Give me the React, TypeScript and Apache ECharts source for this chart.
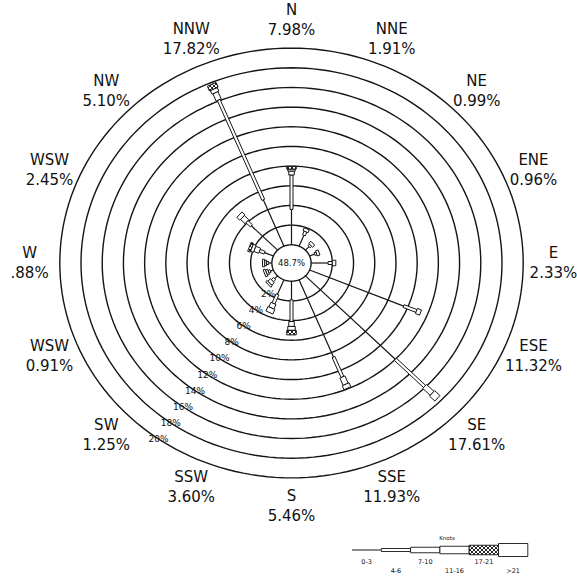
import React, { useEffect, useRef } from 'react';
import * as echarts from 'echarts';

// ---------- data ----------
const directions = ['N', 'NNE', 'NE', 'ENE', 'E', 'ESE', 'SE', 'SSE', 'S', 'SSW', 'SW', 'WSW', 'W', 'WSW', 'NW', 'NNW'];
const directionPercentLabels = ['7.98%', '1.91%', '0.99%', '0.96%', '2.33%', '11.32%', '17.61%', '11.93%', '5.46%', '3.60%', '1.25%', '0.91%', '.88%', '2.45%', '5.10%', '17.82%'];
const calmLabel = '48.7%';
const ringTicks = [2, 4, 6, 8, 10, 12, 14, 16, 18, 20];
const speedClasses = ['0-3', '4-6', '7-10', '11-16', '17-21', '>21'];
const legendTitle = 'Knots';

// percent of time per direction, by speed class (knots)
const knots0to3 = [3.6, 1.2, 0.5, 0.5, 1.6, 9.6, 12.0, 8.5, 1.9, 1.6, 0.4, 0.3, 0.3, 0.9, 3.5, 5.1];
const knots4to6 = [3.5, 0.4, 0.2, 0.2, 0.4, 1.3, 3.9, 2.2, 2.2, 1.0, 0.3, 0.2, 0.2, 0.5, 0.6, 11.0];
const knots7to10 = [0.4, 0.31, 0.29, 0.26, 0.33, 0.42, 1.0, 0.8, 0.5, 0.5, 0.35, 0.21, 0.18, 0.5, 0.6, 0.8];
const knots11to16 = [0.2, 0, 0, 0, 0, 0, 0.71, 0.43, 0.4, 0.5, 0.2, 0.2, 0.2, 0.3, 0.4, 0.4];
const knots17to21 = [0.28, 0, 0, 0, 0, 0, 0, 0, 0.46, 0, 0, 0, 0, 0.25, 0, 0.52];
const knotsOver21 = [0, 0, 0, 0, 0, 0, 0, 0, 0, 0, 0, 0, 0, 0, 0, 0];

// ---------- styling ----------
const R0 = 1.85; // radius (in % units) of the calm circle
const INK = '#151515';
const TEXT = '#111111';
const FONT = 'DejaVu Sans, Verdana, sans-serif';
const classWidths = [1.2, 3, 5.5, 7.5, 9.5, 13];
const LABEL_RADIUS = 24.7;
const RING_LABEL_BEARING = 215;

export default function App() {
  const ref = useRef<HTMLDivElement>(null);

  useEffect(() => {
    if (!ref.current) return;
    const chart = echarts.init(ref.current, undefined, { renderer: 'svg' });

    const cv = document.createElement('canvas');
    cv.width = 4;
    cv.height = 4;
    const ctx = cv.getContext('2d')!;
    ctx.fillStyle = '#ffffff';
    ctx.fillRect(0, 0, 4, 4);
    ctx.strokeStyle = '#222';
    ctx.lineWidth = 1;
    ctx.beginPath();
    ctx.moveTo(0, 0); ctx.lineTo(4, 4);
    ctx.moveTo(4, 0); ctx.lineTo(0, 4);
    ctx.stroke();
    const hatch: any = { image: cv, repeat: 'repeat' };

    const classFill = (c: number) => (c === 4 ? hatch : '#ffffff');

    const classArrays = [knots0to3, knots4to6, knots7to10, knots11to16, knots17to21, knotsOver21];
    const petalData: number[][] = [];
    directions.forEach((_, d) => {
      let cum = 0;
      classArrays.forEach((arr, c) => {
        const v = arr[d];
        if (v > 0) {
          petalData.push([d, c, cum, cum + v]);
          cum += v;
        }
      });
    });

    const ringData = [0, ...ringTicks].map((p) => [p, 0]);
    const labelData = directions.map((n, i) => [i, 0]);
    const ringLabelData = ringTicks.map((p) => [p, 0]);

    const option: any = {
      animation: false,
      backgroundColor: '#ffffff',
      grid: { left: 37, top: 27, width: 509, height: 472 },
      xAxis: { type: 'value', min: -24, max: 24, show: false },
      yAxis: { type: 'value', min: -24, max: 24, show: false },
      series: [
        {
          type: 'custom',
          name: 'rings',
          silent: true,
          clip: false,
          data: ringData,
          renderItem: (params: any, api: any) => {
            const p = api.value(0);
            const r = R0 + p;
            const pts: number[][] = [];
            for (let a = 0; a < 360; a += 2) {
              const t = (a * Math.PI) / 180;
              pts.push(api.coord([r * Math.sin(t), r * Math.cos(t)]));
            }
            return {
              type: 'polygon',
              shape: { points: pts },
              style: { fill: p === 0 ? '#ffffff' : 'none', stroke: INK, lineWidth: 1.4 },
            };
          },
        },
        {
          type: 'custom',
          name: 'petals',
          silent: true,
          clip: false,
          data: petalData,
          renderItem: (params: any, api: any) => {
            const d = api.value(0);
            const c = api.value(1);
            const a = api.value(2);
            const b = api.value(3);
            const t = (d * 22.5 * Math.PI) / 180;
            const s = Math.sin(t);
            const co = Math.cos(t);
            const p0 = api.coord([(R0 + a) * s, (R0 + a) * co]);
            const p1 = api.coord([(R0 + b) * s, (R0 + b) * co]);
            if (c === 0) {
              return {
                type: 'line',
                shape: { x1: p0[0], y1: p0[1], x2: p1[0], y2: p1[1] },
                style: { stroke: INK, lineWidth: classWidths[0] },
              };
            }
            const dx = p1[0] - p0[0];
            const dy = p1[1] - p0[1];
            const L = Math.hypot(dx, dy) || 1;
            const w = classWidths[c] / 2;
            const nx = (-dy / L) * w;
            const ny = (dx / L) * w;
            return {
              type: 'polygon',
              shape: {
                points: [
                  [p0[0] + nx, p0[1] + ny],
                  [p1[0] + nx, p1[1] + ny],
                  [p1[0] - nx, p1[1] - ny],
                  [p0[0] - nx, p0[1] - ny],
                ],
              },
              style: { fill: classFill(c), stroke: INK, lineWidth: 1 },
            };
          },
        },
        {
          type: 'custom',
          name: 'direction labels',
          silent: true,
          clip: false,
          data: labelData,
          renderItem: (params: any, api: any) => {
            const i = api.value(0);
            const t = (i * 22.5 * Math.PI) / 180;
            const pt = api.coord([LABEL_RADIUS * Math.sin(t), LABEL_RADIUS * Math.cos(t)]);
            return {
              type: 'text',
              x: pt[0],
              y: pt[1],
              style: {
                text: directions[i] + '\n' + directionPercentLabels[i],
                fill: TEXT,
                fontSize: 15,
                fontFamily: FONT,
                lineHeight: 20,
                align: 'center',
                verticalAlign: 'middle',
              },
            };
          },
        },
        {
          type: 'custom',
          name: 'ring labels',
          silent: true,
          clip: false,
          data: ringLabelData,
          renderItem: (params: any, api: any) => {
            const p = api.value(0);
            const r = R0 + p;
            const t = (RING_LABEL_BEARING * Math.PI) / 180;
            const pt = api.coord([r * Math.sin(t), r * Math.cos(t)]);
            return {
              type: 'text',
              x: pt[0],
              y: pt[1],
              style: {
                text: p + '%',
                fill: TEXT,
                fontSize: 9,
                fontFamily: FONT,
                align: 'center',
                verticalAlign: 'middle',
              },
            };
          },
        },
        {
          type: 'custom',
          name: 'calm',
          silent: true,
          clip: false,
          data: [[0, 0]],
          renderItem: (params: any, api: any) => {
            const pt = api.coord([0, 0]);
            return {
              type: 'text',
              x: pt[0],
              y: pt[1],
              style: {
                text: calmLabel,
                fill: TEXT,
                fontSize: 8.5,
                fontFamily: FONT,
                align: 'center',
                verticalAlign: 'middle',
              },
            };
          },
        },
      ],
      graphic: (() => {
        const els: any[] = [];
        const x0 = 352;
        const cy = 550;
        const segW = 29.3;
        speedClasses.forEach((name, c) => {
          const x = x0 + c * segW;
          if (c === 0) {
            els.push({ type: 'line', shape: { x1: x, y1: cy, x2: x + segW, y2: cy }, style: { stroke: INK, lineWidth: 1 } });
          } else {
            const h = classWidths[c];
            els.push({ type: 'rect', shape: { x, y: cy - h / 2, width: segW, height: h }, style: { fill: classFill(c), stroke: INK, lineWidth: 0.9 } });
          }
          els.push({
            type: 'text',
            x: x + segW / 2,
            y: c % 2 === 0 ? 562 : 571,
            style: { text: name, fill: TEXT, fontSize: 6.5, fontFamily: FONT, align: 'center', verticalAlign: 'middle' },
          });
        });
        els.push({
          type: 'text', x: 447, y: 538,
          style: { text: legendTitle, fill: TEXT, fontSize: 5.5, fontFamily: FONT, align: 'center', verticalAlign: 'middle' },
        });
        return els;
      })(),
    };

    chart.setOption(option);
    return () => chart.dispose();
  }, []);

  return <div ref={ref} style={{ position: 'fixed', left: 0, top: 0, width: 577, height: 576, background: '#fff' }} />;
}
